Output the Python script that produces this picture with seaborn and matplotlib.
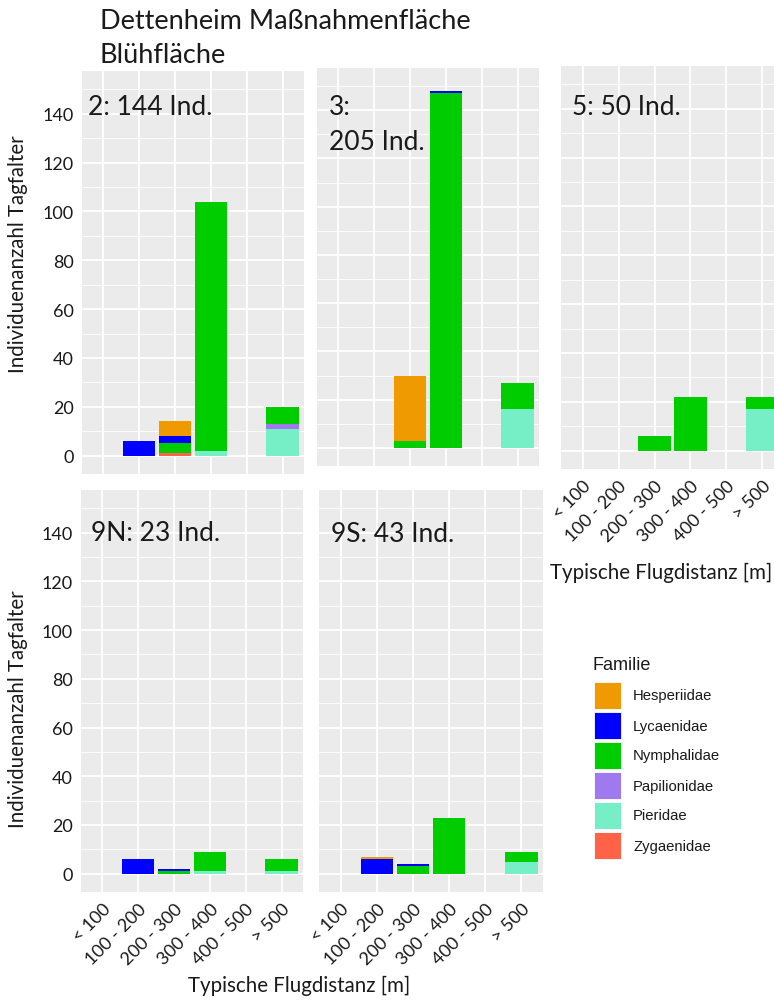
import matplotlib
matplotlib.use("Agg")
import matplotlib.pyplot as plt
from matplotlib.patches import Rectangle
import numpy as np
import pandas as pd
import seaborn as sns

# distance classes (x axis) and butterfly families (stack colours)
distances = ["< 100", "100 - 200", "200 - 300", "300 - 400", "400 - 500", "> 500"]
families = ["Hesperiidae", "Lycaenidae", "Nymphalidae", "Papilionidae", "Pieridae", "Zygaenidae"]
colors = ["#EE9A00", "#0000FF", "#00CD00", "#9F79EE", "#76EEC6", "#FF6347"]

sites = ["2", "3", "5", "9N", "9S"]
site_labels = ["2: 144 Ind.", "3:\n205 Ind.", "5: 50 Ind.", "9N: 23 Ind.", "9S: 43 Ind."]

# individuals per site (rows: 2, 3, 5, 9N, 9S) and distance class
hesperiidae = [[0, 0, 6, 0, 0, 0],
               [0, 0, 27, 0, 0, 0],
               [0, 0, 0, 0, 0, 0],
               [0, 0, 0, 0, 0, 0],
               [0, 1, 0, 0, 0, 0]]
lycaenidae = [[0, 6, 3, 0, 0, 0],
              [0, 0, 0, 1, 0, 0],
              [0, 0, 0, 0, 0, 0],
              [0, 6, 1, 0, 0, 0],
              [0, 6, 1, 0, 0, 0]]
nymphalidae = [[0, 0, 4, 102, 0, 7],
               [0, 0, 3, 147, 0, 11],
               [0, 0, 6, 22, 0, 5],
               [0, 0, 1, 8, 0, 5],
               [0, 0, 3, 23, 0, 4]]
papilionidae = [[0, 0, 0, 0, 0, 2],
                [0, 0, 0, 0, 0, 0],
                [0, 0, 0, 0, 0, 0],
                [0, 0, 0, 0, 0, 0],
                [0, 0, 0, 0, 0, 0]]
pieridae = [[0, 0, 0, 2, 0, 11],
            [0, 0, 0, 0, 0, 16],
            [0, 0, 0, 0, 0, 17],
            [0, 0, 0, 1, 0, 1],
            [0, 0, 0, 0, 0, 5]]
zygaenidae = [[0, 0, 1, 0, 0, 0],
              [0, 0, 0, 0, 0, 0],
              [0, 0, 0, 0, 0, 0],
              [0, 0, 0, 0, 0, 0],
              [0, 0, 0, 0, 0, 0]]

counts = dict(zip(families, [hesperiidae, lycaenidae, nymphalidae,
                             papilionidae, pieridae, zygaenidae]))
rows = []
for fam, table in counts.items():
    for s, site in enumerate(sites):
        for d, n in enumerate(table[s]):
            rows.append((site, d, fam, n))
df = pd.DataFrame(rows, columns=["site", "pos", "Familie", "n"])

sns.set_style("darkgrid", {"axes.facecolor": "#EBEBEB", "grid.color": "white"})
plt.rcParams["font.family"] = ["Lato", "DejaVu Sans"]
plt.rcParams["text.color"] = "#1a1a1a"

W, H = 774, 1003
fig = plt.figure(figsize=(W / 100, H / 100), dpi=100)
fig.patch.set_facecolor("white")


def box(x0, y0, x1, y1):
    return [x0 / W, 1 - y1 / H, (x1 - x0) / W, (y1 - y0) / H]


# panel boxes in pixels, which tick labels they show
panels = {
    "2": (box(82, 72, 304, 475), False, True),
    "3": (box(317, 69, 539, 467), False, False),
    "5": (box(561, 67, 784, 470), True, False),
    "9N": (box(81, 491, 303, 893), True, True),
    "9S": (box(319, 491, 543, 893), True, False),
}
tick_col = "#1a1a1a"

for site in sites:
    rect, show_x, show_y = panels[site]
    ax = fig.add_axes(rect)
    sub = df[df.site == site]
    sns.histplot(data=sub, x="pos", weights="n", hue="Familie", hue_order=families,
                 palette=colors, multiple="stack", discrete=True, shrink=0.9,
                 alpha=1, linewidth=0, legend=False, ax=ax)
    ax.set_xlim(-0.6, 5.6)
    ax.set_ylim(-7.5, 157.5)
    ax.set_xticks(range(len(distances)))
    ax.set_yticks(np.arange(0, 141, 20))
    ax.set_yticks(np.arange(10, 160, 20), minor=True)
    ax.grid(which="major", color="white", lw=1.3)
    ax.grid(which="minor", axis="y", color="white", lw=0.6)
    ax.set_axisbelow(True)
    for sp in ax.spines.values():
        sp.set_visible(False)
    ax.tick_params(which="major", length=3, width=0.8, color="#444444",
                   labelsize=13, labelcolor=tick_col, pad=3)
    ax.tick_params(which="minor", length=0)
    ax.set_xlabel("")
    ax.set_ylabel("")
    if show_x:
        ax.set_xticklabels(distances, rotation=45, ha="right", va="top",
                           rotation_mode="anchor")
    else:
        ax.set_xticklabels([])
    if not show_y:
        ax.set_yticklabels([])

# panel titles
lab_fs = 19
fig.text(88 / W, 1 - 115 / H, site_labels[0], fontsize=lab_fs, va="baseline")
fig.text(329 / W, 1 - 115 / H, "3:", fontsize=lab_fs, va="baseline")
fig.text(329 / W, 1 - 150 / H, "205 Ind.", fontsize=lab_fs, va="baseline")
fig.text(572 / W, 1 - 115 / H, site_labels[2], fontsize=lab_fs, va="baseline")
fig.text(91 / W, 1 - 541 / H, site_labels[3], fontsize=lab_fs, va="baseline")
fig.text(331 / W, 1 - 542 / H, site_labels[4], fontsize=lab_fs, va="baseline")

# figure title
fig.text(100 / W, 1 - 29 / H, "Dettenheim Maßnahmenfläche", fontsize=19.5, va="baseline")
fig.text(100 / W, 1 - 63 / H, "Blühfläche", fontsize=19.5, va="baseline")

# axis titles
ylab = "Individuenanzahl Tagfalter"
fig.text(18 / W, 1 - 254 / H, ylab, rotation=90, fontsize=14.8, ha="center", va="center")
fig.text(18 / W, 1 - 709 / H, ylab, rotation=90, fontsize=14.8, ha="center", va="center")
xlab = "Typische Flugdistanz [m]"
fig.text(661 / W, 1 - 573 / H, xlab, fontsize=14.8, ha="center", va="center")
fig.text(299 / W, 1 - 986 / H, xlab, fontsize=14.8, ha="center", va="center")

# legend
leg_font = ["Liberation Sans", "DejaVu Sans"]
fig.text(593 / W, 1 - 665 / H, "Familie", fontsize=13, va="center", family=leg_font)
for i, (fam, col) in enumerate(zip(families, colors)):
    top = 683 + i * 30
    fig.add_artist(Rectangle((594 / W, 1 - (top + 27) / H), 27 / W, 27 / H,
                             transform=fig.transFigure, facecolor=col,
                             edgecolor="white", lw=0.6))
    fig.text(633 / W, 1 - (top + 13.5) / H, fam, fontsize=10.7, va="center",
             family=leg_font)

fig.savefig("out.png", dpi=100)
